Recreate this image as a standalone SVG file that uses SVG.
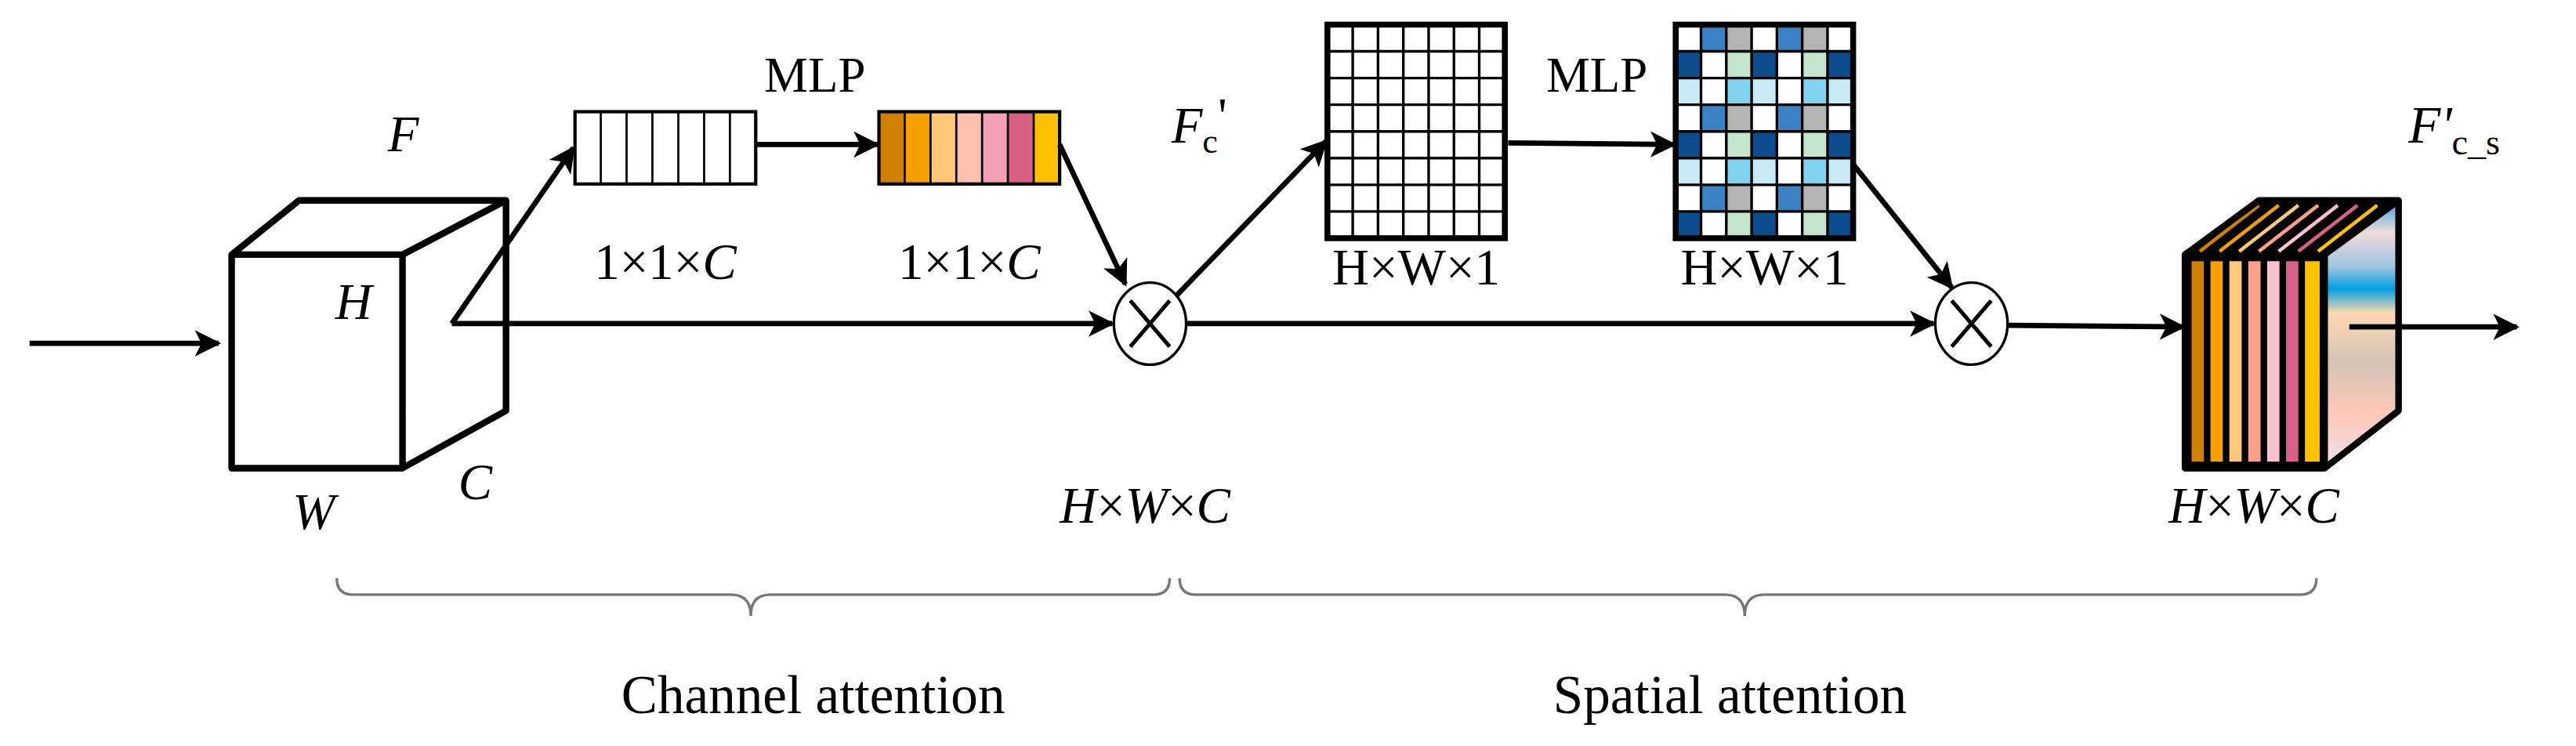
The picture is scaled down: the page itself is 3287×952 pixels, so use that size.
<svg xmlns="http://www.w3.org/2000/svg" width="3287" height="952" viewBox="0 0 3287 952">
<style>
text{font-family:"Liberation Serif","Times New Roman",serif;fill:#000}
.i{font-style:italic}
.ln{stroke:#000;stroke-width:3.2;fill:none}
.bx{stroke:#000;stroke-width:4;fill:none;stroke-linejoin:round}
</style>
<defs>
<marker id="ah" viewBox="0 0 10 10" refX="9" refY="5" markerWidth="5" markerHeight="5" orient="auto" markerUnits="strokeWidth"><path d="M0,0 L10,5 L0,10 L2.5,5 z" fill="#000"/></marker>
<linearGradient id="side" x1="0" y1="0" x2="0" y2="1">
<stop offset="0" stop-color="#3aa0d8"/><stop offset="0.12" stop-color="#f0dcdc"/><stop offset="0.25" stop-color="#9cc4e0"/><stop offset="0.33" stop-color="#00a0e0"/><stop offset="0.42" stop-color="#ffd8b0"/><stop offset="0.6" stop-color="#d4c4b8"/><stop offset="0.8" stop-color="#ffc8b8"/><stop offset="1" stop-color="#ece4ec"/>
</linearGradient>
<g id="row0"><rect x="0" width="15.4" height="16" fill="#fff"/><rect x="15.4" width="15.4" height="16" fill="#3a82c4"/><rect x="30.8" width="15.4" height="16" fill="#b4b4b4"/><rect x="46.2" width="15.4" height="16" fill="#fff"/><rect x="61.6" width="15.4" height="16" fill="#3a82c4"/><rect x="77" width="15.4" height="16" fill="#b4b4b4"/><rect x="92.4" width="15.6" height="16" fill="#fff"/></g>
<g id="row1"><rect x="0" width="15.4" height="16" fill="#0d4c8c"/><rect x="15.4" width="15.4" height="16" fill="#fff"/><rect x="30.8" width="15.4" height="16" fill="#c4e4cc"/><rect x="46.2" width="15.4" height="16" fill="#0d4c8c"/><rect x="61.6" width="15.4" height="16" fill="#fff"/><rect x="77" width="15.4" height="16" fill="#c4e4cc"/><rect x="92.4" width="15.6" height="16" fill="#0d4c8c"/></g>
<g id="row2"><rect x="0" width="15.4" height="16" fill="#c8eaf6"/><rect x="15.4" width="15.4" height="16" fill="#fff"/><rect x="30.8" width="15.4" height="16" fill="#80d2ee"/><rect x="46.2" width="15.4" height="16" fill="#c8eaf6"/><rect x="61.6" width="15.4" height="16" fill="#fff"/><rect x="77" width="15.4" height="16" fill="#80d2ee"/><rect x="92.4" width="15.6" height="16" fill="#c8eaf6"/></g>
<path id="gridlines" d="M15.4,0V130M30.8,0V130M46.2,0V130M61.6,0V130M77,0V130M92.4,0V130M0,16.25H108M0,32.5H108M0,48.75H108M0,65H108M0,81.25H108M0,97.5H108M0,113.75H108" stroke="#000" stroke-width="1.6" fill="none"/>
</defs>
<rect width="3287" height="952" fill="#fff"/>
<g transform="scale(2.0963)">
<g id="cube1">
<path class="bx" d="M141,155 L182,122 L308,122 L308,250 L245,285 L141,285 Z M141,155 L245,155 L308,122 M245,155 L245,285"/>
<text class="i" x="204" y="194" font-size="31">H</text>
<text class="i" x="178" y="322" font-size="31">W</text>
<text class="i" x="279" y="304" font-size="31">C</text>
<text class="i" x="236" y="92" font-size="31">F</text>
</g>
<g id="vec1">
<rect x="350" y="68" width="110" height="44" fill="#fff" stroke="#000" stroke-width="2"/>
<path d="M365.7,68V112M381.4,68V112M397.1,68V112M412.9,68V112M428.6,68V112M444.3,68V112" stroke="#000" stroke-width="1.3"/>
<text x="405" y="170" font-size="31" text-anchor="middle">1×1×<tspan class="i">C</tspan></text>
</g>
<g id="vec2">
<rect x="535" y="68" width="15.7" height="44" fill="#d08000"/><rect x="550.7" y="68" width="15.7" height="44" fill="#f5a000"/><rect x="566.4" y="68" width="15.7" height="44" fill="#ffc878"/><rect x="582.1" y="68" width="15.7" height="44" fill="#ffc0b0"/><rect x="597.8" y="68" width="15.7" height="44" fill="#f4a0b4"/><rect x="613.5" y="68" width="15.7" height="44" fill="#d86080"/><rect x="629.2" y="68" width="15.8" height="44" fill="#ffc000"/>
<path d="M550.7,68V112M566.4,68V112M582.1,68V112M597.8,68V112M613.5,68V112M629.2,68V112" stroke="#000" stroke-width="1.3"/>
<rect x="535" y="68" width="110" height="44" fill="none" stroke="#000" stroke-width="2"/>
<text x="590" y="170" font-size="31" text-anchor="middle">1×1×<tspan class="i">C</tspan></text>
<text x="496" y="56" font-size="30" text-anchor="middle">MLP</text>
</g>
<g id="mul1">
<ellipse cx="700" cy="197" rx="22" ry="25" fill="#fff" stroke="#000" stroke-width="1.6"/>
<path d="M688,183 L712,211 M712,183 L688,211" stroke="#000" stroke-width="2.4"/>
<text class="i" x="713" y="87" font-size="31">F<tspan font-style="normal" font-size="21" dy="6">c</tspan><tspan font-style="normal" dy="-12">'</tspan></text>
<text x="697" y="318" font-size="31" text-anchor="middle"><tspan class="i">H</tspan>×<tspan class="i">W</tspan>×<tspan class="i">C</tspan></text>
</g>
<g id="grid1">
<rect x="808" y="15" width="108" height="130" fill="#fff"/>
<use href="#gridlines" x="808" y="15"/>
<rect x="808" y="15" width="108" height="130" fill="none" stroke="#000" stroke-width="3.6"/>
<text x="862" y="173" font-size="31" text-anchor="middle">H×W×1</text>
</g>
<g id="grid2">
<use href="#row0" x="1020" y="15"/><use href="#row1" x="1020" y="31.25"/><use href="#row2" x="1020" y="47.5"/><use href="#row0" x="1020" y="63.75"/><use href="#row1" x="1020" y="80"/><use href="#row2" x="1020" y="96.25"/><use href="#row0" x="1020" y="112.5"/><use href="#row1" x="1020" y="128.75"/>
<use href="#gridlines" x="1020" y="15"/>
<rect x="1020" y="15" width="108" height="130" fill="none" stroke="#000" stroke-width="3.6"/>
<text x="1074" y="173" font-size="31" text-anchor="middle">H×W×1</text>
<text x="972" y="56" font-size="30" text-anchor="middle">MLP</text>
</g>
<g id="mul2">
<ellipse cx="1200" cy="197" rx="22" ry="25" fill="#fff" stroke="#000" stroke-width="1.6"/>
<path d="M1188,183 L1212,211 M1212,183 L1188,211" stroke="#000" stroke-width="2.4"/>
</g>
<g id="cube2">
<path d="M1415,155 L1460,122 L1460,250 L1415,285 Z" fill="url(#side)"/>
<rect x="1330" y="155" width="85" height="130" fill="#000"/>
<rect x="1334" y="159" width="7.5" height="122" fill="#d08000"/><rect x="1345.5" y="159" width="7.5" height="122" fill="#f5a000"/><rect x="1357" y="159" width="7.5" height="122" fill="#ffc878"/><rect x="1368.5" y="159" width="7.5" height="122" fill="#ffa088"/><rect x="1380" y="159" width="7.5" height="122" fill="#f8c0d0"/><rect x="1391.5" y="159" width="7.5" height="122" fill="#d86088"/><rect x="1403" y="159" width="9" height="122" fill="#ffc000"/>
<path d="M1330,155 L1375,122 L1460,122 L1415,155 Z" fill="#000"/>
<g fill="none" stroke-width="2.2"><path d="M1339,153 L1375,125" stroke="#d08000"/><path d="M1351,153 L1387,125" stroke="#f0a000"/><path d="M1363,153 L1399,125" stroke="#ffc878"/><path d="M1375,153 L1411,125" stroke="#ffa088"/><path d="M1387,153 L1423,125" stroke="#f8c0d0"/><path d="M1399,153 L1435,125" stroke="#d86088"/><path d="M1411,153 L1447,125" stroke="#ffc000"/></g>
<path class="bx" d="M1330,155 L1375,122 L1460,122 L1460,250 L1415,285 L1330,285 Z M1415,155 L1460,122 M1415,155 L1415,285"/>
<text class="i" x="1466" y="87" font-size="32">F'<tspan font-style="normal" font-size="22" dy="7">c_s</tspan></text>
<text x="1372" y="318" font-size="31" text-anchor="middle"><tspan class="i">H</tspan>×<tspan class="i">W</tspan>×<tspan class="i">C</tspan></text>
</g>
<g id="connectors">
<path class="ln" d="M18,209 L133,209" marker-end="url(#ah)"/>
<path class="ln" d="M275,197 L349,90" marker-end="url(#ah)"/>
<path class="ln" d="M275,197 L677,197" marker-end="url(#ah)"/>
<path class="ln" d="M460,88 L534,88" marker-end="url(#ah)"/>
<path class="ln" d="M645,88 L685,173" marker-end="url(#ah)"/>
<path class="ln" d="M716,180 L807,86" marker-end="url(#ah)"/>
<path class="ln" d="M722,197 L1177,197" marker-end="url(#ah)"/>
<path class="ln" d="M918,87 L1019,88" marker-end="url(#ah)"/>
<path class="ln" d="M1128,100 L1188,175" marker-end="url(#ah)"/>
<path class="ln" d="M1222,198 L1329,199" marker-end="url(#ah)"/>
<path class="ln" d="M1430,199 L1532,199" marker-end="url(#ah)"/>
</g>
<g id="braces" fill="none" stroke="#777" stroke-width="1.6">
<path d="M205,352 Q205,362 215,362 L445,362 Q457,362 457,375 Q457,362 469,362 L702,362 Q712,362 712,352"/>
<path d="M718,352 Q718,362 728,362 L1050,362 Q1062,362 1062,375 Q1062,362 1074,362 L1400,362 Q1410,362 1410,352"/>
</g>
<text x="495" y="434" font-size="33" text-anchor="middle">Channel attention</text>
<text x="1053" y="434" font-size="33" text-anchor="middle">Spatial attention</text>
</g>
</svg>
